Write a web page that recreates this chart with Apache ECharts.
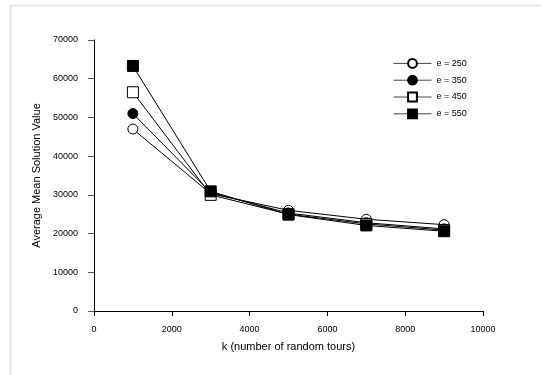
<!DOCTYPE html>
<html>
<head>
<meta charset="utf-8">
<script src="https://cdn.jsdelivr.net/npm/echarts@6/dist/echarts.min.js"></script>
<style>
  html, body { margin: 0; padding: 0; background: #fff; }
  #main { width: 542px; height: 375px; }
</style>
</head>
<body>
<div id="main"></div>
<script>
  // k values on the x axis
  var kValues = [1000, 3000, 5000, 7000, 9000];
  var seriesNames = ['e = 250', 'e = 350', 'e = 450', 'e = 550'];
  var e250 = [47000, 30300, 26000, 23700, 22300];
  var e350 = [51000, 30600, 25300, 22800, 21200];
  var e450 = [56500, 30000, 25000, 22500, 20900];
  var e550 = [63300, 30900, 24900, 22100, 20600];

  var font = 'Liberation Sans, Arial, sans-serif';
  var myChart = echarts.init(document.getElementById('main'));

  function pairs(vals) {
    return kValues.map(function (k, i) { return [k, vals[i]]; });
  }

  function makeSeries(name, vals, symbol, filled, size) {
    return {
      name: name,
      type: 'line',
      data: pairs(vals),
      symbol: symbol,
      symbolSize: size,
      showAllSymbol: true,
      animation: false,
      lineStyle: { color: '#000', width: 1 },
      itemStyle: {
        color: filled ? '#000' : '#fff',
        borderColor: '#000',
        borderWidth: 1
      }
    };
  }

  var option = {
    backgroundColor: '#fff',
    animation: false,
    graphic: [
      { type: 'line', shape: { x1: 10, y1: 5.5, x2: 541, y2: 5.5 }, style: { stroke: '#e8e8e8', lineWidth: 2 } },
      { type: 'line', shape: { x1: 10.5, y1: 5, x2: 10.5, y2: 375 }, style: { stroke: '#e8e8e8', lineWidth: 2 } }
    ],
    grid: { left: 94, right: 59, top: 40, bottom: 64 },
    legend: {
      data: seriesNames,
      orient: 'vertical',
      left: 388,
      top: 53,
      itemWidth: 38,
      itemHeight: 11,
      itemGap: 6,
      lineStyle: { width: 1, color: '#444' },
      textStyle: { fontFamily: font, fontSize: 9, color: '#000' }
    },
    xAxis: {
      type: 'value',
      min: 0,
      max: 10000,
      interval: 2000,
      name: 'k (number of random tours)',
      nameLocation: 'middle',
      nameGap: 30,
      nameTextStyle: { fontFamily: font, fontSize: 11, color: '#000' },
      axisLine: { lineStyle: { color: '#000', width: 1 } },
      axisTick: { inside: false, length: 5, lineStyle: { color: '#000' } },
      axisLabel: { fontFamily: font, fontSize: 9, color: '#000', margin: 14, formatter: function (v) { return String(v); } },
      splitLine: { show: false }
    },
    yAxis: {
      type: 'value',
      min: 0,
      max: 70000,
      interval: 10000,
      name: 'Average Mean Solution Value',
      nameLocation: 'middle',
      nameGap: 52,
      nameTextStyle: { fontFamily: font, fontSize: 11, color: '#000' },
      axisLine: { show: true, lineStyle: { color: '#000', width: 1 } },
      axisTick: { show: true, length: 6, lineStyle: { color: '#555' } },
      axisLabel: { fontFamily: font, fontSize: 9, color: '#000', margin: 16, formatter: function (v) { return String(v); } },
      splitLine: { show: false }
    },
    series: [
      makeSeries(seriesNames[0], e250, 'circle', false, 10),
      makeSeries(seriesNames[1], e350, 'circle', true, 10),
      makeSeries(seriesNames[2], e450, 'rect', false, 11),
      makeSeries(seriesNames[3], e550, 'rect', true, 11)
    ]
  };

  option && myChart.setOption(option);
</script>
</body>
</html>
